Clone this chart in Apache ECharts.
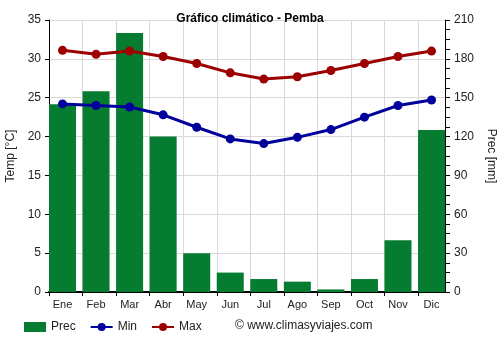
<!DOCTYPE html>
<html>
<head>
<meta charset="utf-8">
<script src="https://cdn.jsdelivr.net/npm/echarts@6/dist/echarts.min.js"></script>
<style>
  html, body { margin: 0; padding: 0; background: #fff; }
  #chart { width: 500px; height: 350px; }
</style>
</head>
<body>
<div id="chart"></div>
<script>
// Monthly climate data for Pemba
const months = ['Ene', 'Feb', 'Mar', 'Abr', 'May', 'Jun', 'Jul', 'Ago', 'Sep', 'Oct', 'Nov', 'Dic'];
const precip = [145, 155, 200, 120, 30, 15, 10, 8, 2, 10, 40, 125];
const tempMin = [24.2, 24.0, 23.8, 22.8, 21.2, 19.7, 19.1, 19.9, 20.9, 22.5, 24.0, 24.7];
const tempMax = [31.1, 30.6, 31.0, 30.3, 29.4, 28.2, 27.4, 27.7, 28.5, 29.4, 30.3, 31.0];
const monthBounds = [0, 1, 2, 3, 4, 5, 6, 7, 8, 9, 10, 11];

const FONT = '"Liberation Sans", Arial, sans-serif';
const TXT = '#222';
const GRIDLINE = '#d9d9d9';

// Plot frame and the month slots (bars sit at the left of each slot)
const PLOT_L = 49, PLOT_R = 445, TOP = 20, BOTTOM = 292;
const SLOT = 33.55, BAR_W = 27;
const dataLeft = PLOT_L + BAR_W / 2 - SLOT / 2;
const dataRight = 500 - (dataLeft + SLOT * 12);

const chart = echarts.init(document.getElementById('chart'), null, { renderer: 'canvas' });

chart.setOption({
  animation: false,
  backgroundColor: '#fff',
  textStyle: { fontFamily: FONT },
  title: {
    text: 'Gráfico climático - Pemba',
    left: 'center',
    top: 8,
    textStyle: { fontSize: 12, fontWeight: 'bold', color: '#000', fontFamily: FONT }
  },
  grid: [
    { left: PLOT_L, right: 500 - PLOT_R, top: TOP, bottom: 350 - BOTTOM,
      containLabel: false, outerBoundsMode: 'none' },
    { left: dataLeft, right: dataRight, top: TOP, bottom: 350 - BOTTOM,
      containLabel: false, outerBoundsMode: 'none' }
  ],
  legend: {
    left: 19,
    top: 316,
    itemGap: 14,
    itemWidth: 22,
    itemHeight: 10,
    textStyle: { fontSize: 12, color: TXT, fontFamily: FONT },
    data: [
      { name: 'Prec', icon: 'rect' },
      { name: 'Min' },
      { name: 'Max' }
    ]
  },
  graphic: [{
    type: 'text',
    left: 235,
    top: 320,
    style: { text: '© www.climasyviajes.com', fill: TXT, font: '12px ' + FONT }
  }],
  xAxis: [
    {
      // frame axis: base line, month boundary ticks and vertical gridlines
      type: 'value',
      gridIndex: 0,
      min: 0,
      max: (PLOT_R - PLOT_L) / SLOT,
      interval: 1,
      axisLine: { show: true, onZero: false, lineStyle: { color: '#000', width: 2 } },
      axisTick: { show: true, length: 4, customValues: monthBounds, lineStyle: { color: '#000' } },
      axisLabel: { show: false },
      splitLine: { show: true, lineStyle: { color: GRIDLINE, width: 1 } }
    },
    {
      // month axis carrying the data
      type: 'category',
      gridIndex: 1,
      data: months,
      boundaryGap: true,
      axisLine: { show: false },
      axisTick: { show: false },
      axisLabel: { color: TXT, fontSize: 11, margin: 7, fontFamily: FONT },
      splitLine: { show: false }
    }
  ],
  yAxis: [
    {
      type: 'value',
      gridIndex: 0,
      min: 0, max: 35, interval: 5,
      name: 'Temp [°C]',
      nameLocation: 'middle',
      nameGap: 32,
      nameRotate: 90,
      nameTextStyle: { color: TXT, fontSize: 12, fontFamily: FONT },
      axisLine: { show: true, onZero: false, lineStyle: { color: '#000', width: 1 } },
      axisTick: { show: true, length: 4, lineStyle: { color: '#000' } },
      axisLabel: { color: TXT, fontSize: 12, margin: 8, fontFamily: FONT },
      splitLine: { show: true, lineStyle: { color: GRIDLINE, width: 1 } }
    },
    {
      type: 'value',
      gridIndex: 0,
      min: 0, max: 210, interval: 30,
      name: 'Prec [mm]',
      nameLocation: 'middle',
      nameGap: 39,
      nameRotate: -90,
      nameTextStyle: { color: TXT, fontSize: 12, fontFamily: FONT },
      position: 'right',
      axisLine: { show: true, onZero: false, lineStyle: { color: '#000', width: 1 } },
      axisTick: { show: true, length: 5, lineStyle: { color: '#000' } },
      minorTick: { show: true, splitNumber: 4, length: 5, lineStyle: { color: '#000' } },
      axisLabel: { color: TXT, fontSize: 12, margin: 9, fontFamily: FONT },
      splitLine: { show: false }
    },
    {
      type: 'value', gridIndex: 1, min: 0, max: 35, interval: 5, show: false,
      splitLine: { show: false }
    },
    {
      type: 'value', gridIndex: 1, min: 0, max: 210, interval: 30, show: false,
      position: 'right', splitLine: { show: false }
    }
  ],
  series: [
    {
      name: 'Prec',
      type: 'bar',
      xAxisIndex: 1,
      yAxisIndex: 3,
      data: precip,
      barWidth: BAR_W,
      itemStyle: { color: '#067c31' },
      z: 2
    },
    {
      name: 'Min',
      type: 'line',
      xAxisIndex: 1,
      yAxisIndex: 2,
      data: tempMin,
      symbol: 'circle',
      symbolSize: 9,
      lineStyle: { color: '#00009c', width: 3 },
      itemStyle: { color: '#00009c' },
      z: 4
    },
    {
      name: 'Max',
      type: 'line',
      xAxisIndex: 1,
      yAxisIndex: 2,
      data: tempMax,
      symbol: 'circle',
      symbolSize: 9,
      lineStyle: { color: '#9c0000', width: 3 },
      itemStyle: { color: '#9c0000' },
      z: 4
    }
  ]
});
</script>
</body>
</html>
